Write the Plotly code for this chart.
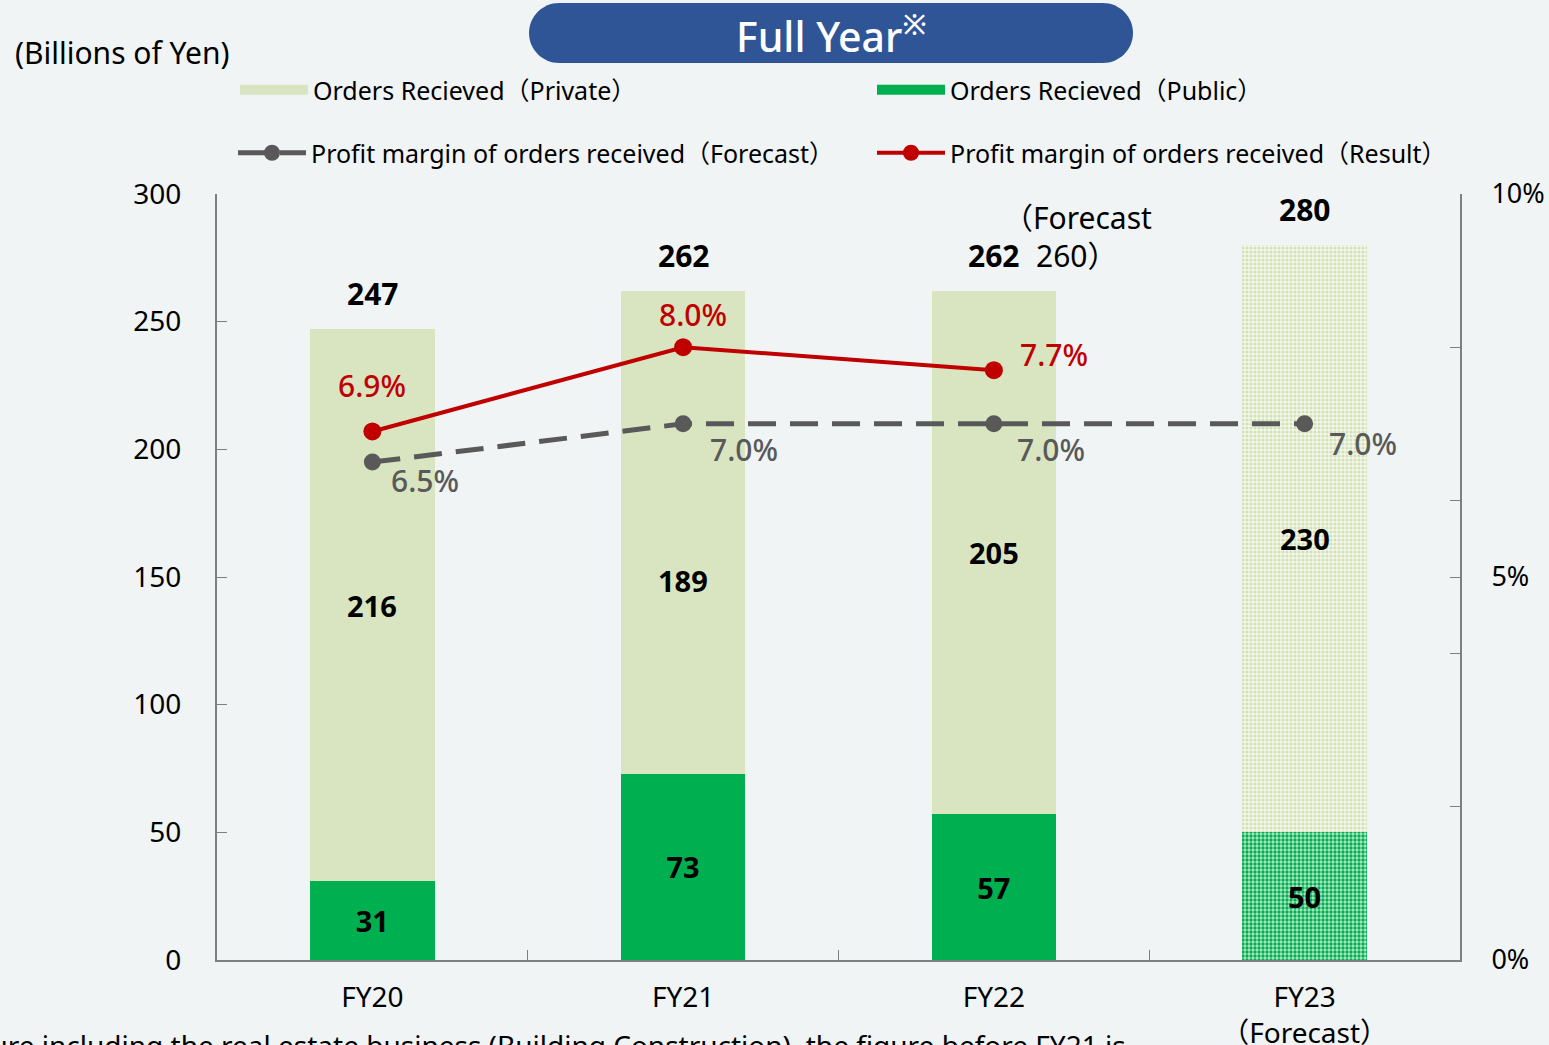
import plotly.graph_objects as go

categories = ["FY20", "FY21", "FY22", "FY23"]
tick_labels = ["FY20", "FY21", "FY22", "FY23<br>（Forecast）"]
private_vals = [216, 189, 205, 230]
public_vals = [31, 73, 57, 50]
totals = [247, 262, 262, 280]
margin_result = [0.069, 0.080, 0.077]
margin_forecast = [0.065, 0.070, 0.070, 0.070]
result_labels = ["6.9%", "8.0%", "7.7%"]
forecast_labels = ["6.5%", "7.0%", "7.0%", "7.0%"]
fy22_forecast_total = 260

FONT = "Noto Sans, Noto Sans CJK JP, sans-serif"
BG = "#F0F4F5"
GREEN = "#00B050"
PALE = "#D9E5C0"
RED = "#C00000"
GRAY = "#595959"
W, H = 1549, 1045
L, R, T, B = 217, 89, 194, 85
PW, PH = W - L - R, H - T - B


def px(x):
    return (x - L) / PW


def py(y):
    return (H - B - y) / PH


fig = go.Figure()

fig.add_trace(go.Bar(
    x=categories, y=public_vals, name="Orders Recieved（Public）",
    marker=dict(color=GREEN, line=dict(width=0),
                pattern=dict(shape=["", "", "", "."],
                             fgcolor=[GREEN] * 4,
                             bgcolor=[GREEN] * 3 + ["#B5E6C8"],
                             size=4, solidity=0.55, fillmode="replace")),
    text=[str(v) for v in public_vals], textposition="inside",
    insidetextanchor="middle", textangle=0,
    textfont=dict(family=FONT, size=29, color="black", weight="bold"),
    width=0.4, showlegend=False, hoverinfo="skip",
))
fig.add_trace(go.Bar(
    x=categories, y=private_vals, name="Orders Recieved（Private）",
    marker=dict(color=PALE, line=dict(width=0),
                pattern=dict(shape=["", "", "", "."],
                             fgcolor=[PALE] * 3 + ["#D3E2B5"],
                             bgcolor=[PALE] * 3 + ["#F4F7EE"],
                             size=4, solidity=0.5, fillmode="replace")),
    textposition="none",
    width=0.4, showlegend=False, hoverinfo="skip",
))
fig.add_trace(go.Scatter(
    x=categories, y=margin_forecast, yaxis="y2", mode="lines+markers",
    name="Profit margin of orders received（Forecast）",
    line=dict(color=GRAY, width=5, dash="28px,14px"),
    marker=dict(size=17, color=GRAY),
    legend="legend3", hoverinfo="skip",
))
fig.add_trace(go.Scatter(
    x=categories[:3], y=margin_result, yaxis="y2", mode="lines+markers",
    name="Profit margin of orders received（Result）",
    line=dict(color=RED, width=4),
    marker=dict(size=18, color=RED),
    legend="legend4", hoverinfo="skip",
))
# legend keys for the bars (wide rectangles like the reference)
fig.add_trace(go.Scatter(x=[None], y=[None], mode="lines", name="Orders Recieved（Private）",
                         line=dict(color=PALE, width=16), legend="legend", hoverinfo="skip"))
fig.add_trace(go.Scatter(x=[None], y=[None], mode="lines", name="Orders Recieved（Public）",
                         line=dict(color=GREEN, width=16), legend="legend2", hoverinfo="skip"))

annotations = []
for c, t in zip(categories, totals):
    annotations.append(dict(x=c, y=t, text=str(t), showarrow=False, yanchor="bottom",
                            yshift=13, font=dict(family=FONT, size=30, color="black", weight="bold")))
priv_shift = [0, -48, 0, 0]
for c, pu, pr, dy in zip(categories, public_vals, private_vals, priv_shift):
    annotations.append(dict(x=c, y=pu + pr / 2, text=str(pr), showarrow=False, yshift=dy,
                            font=dict(family=FONT, size=29, color="black", weight="bold")))
res_shift = [(0, 46), (10, 33), (60, 16)]
for c, v, lab, (dx, dy) in zip(categories, margin_result, result_labels, res_shift):
    annotations.append(dict(x=c, y=v, yref="y2", text=lab, showarrow=False,
                            xshift=dx, yshift=dy,
                            font=dict(family=FONT, size=30, color=RED, weight=500)))
fc_shift = [(53, -18), (61, -26), (57, -26), (58, -20)]
for c, v, lab, (dx, dy) in zip(categories, margin_forecast, forecast_labels, fc_shift):
    annotations.append(dict(x=c, y=v, yref="y2", text=lab, showarrow=False,
                            xshift=dx, yshift=dy,
                            font=dict(family=FONT, size=30, color=GRAY, weight=500)))

annotations += [
    dict(xref="paper", yref="paper", x=px(1001), y=py(217), xanchor="left", yanchor="middle",
         text="（Forecast", showarrow=False,
         font=dict(family=FONT, size=30, color="black")),
    dict(xref="paper", yref="paper", x=px(1034), y=py(256), xanchor="left", yanchor="middle",
         text=f"{fy22_forecast_total}）", showarrow=False,
         font=dict(family=FONT, size=30, color="black")),
    dict(xref="paper", yref="paper", x=px(13), y=py(52), xanchor="left", yanchor="middle",
         text="(Billions of Yen)", showarrow=False,
         font=dict(family=FONT, size=30, color="black")),
    dict(xref="paper", yref="paper", x=px(831), y=py(34), xanchor="center", yanchor="middle",
         text="Full Year<sup>※</sup>", showarrow=False,
         font=dict(family=FONT, size=41, color="white", weight=500)),
    dict(xref="paper", yref="paper", x=px(1128), y=py(1024), xanchor="right", yanchor="top",
         text="※Figure including the real estate business (Building Construction), the figure before FY21 is",
         showarrow=False, font=dict(family=FONT, size=28, color="black")),
]

# rounded pill behind the title
x0, x1, y0, y1, r = 529, 1133, 3, 63, 30
k = 0.45
path = (f"M {px(x0 + r)} {py(y0)} L {px(x1 - r)} {py(y0)} "
        f"C {px(x1 - r * k)} {py(y0)} {px(x1)} {py(y0 + r * k)} {px(x1)} {py(y0 + r)} "
        f"C {px(x1)} {py(y1 - r * k)} {px(x1 - r * k)} {py(y1)} {px(x1 - r)} {py(y1)} "
        f"L {px(x0 + r)} {py(y1)} "
        f"C {px(x0 + r * k)} {py(y1)} {px(x0)} {py(y1 - r * k)} {px(x0)} {py(y1 - r)} "
        f"C {px(x0)} {py(y0 + r * k)} {px(x0 + r * k)} {py(y0)} {px(x0 + r)} {py(y0)} Z")


def leg(xp, yp):
    return dict(x=px(xp), y=py(yp), xanchor="left", yanchor="middle", bgcolor="rgba(0,0,0,0)",
                itemwidth=68, font=dict(family=FONT, size=25, color="black"),
                itemclick=False, itemdoubleclick=False)


fig.update_layout(
    width=W, height=H, barmode="stack",
    margin=dict(l=L, r=R, t=T, b=B, autoexpand=False),
    paper_bgcolor=BG, plot_bgcolor=BG,
    font=dict(family=FONT, size=28, color="black"),
    shapes=[dict(type="path", path=path, xref="paper", yref="paper",
                 fillcolor="#2F5597", line=dict(width=0), layer="below")],
    annotations=annotations,
    xaxis=dict(type="category", range=[-0.5, 3.5], tickmode="array",
               tickvals=categories, ticktext=tick_labels, tickson="boundaries",
               ticks="inside", ticklen=10, tickcolor="#7F7F7F",
               showline=True, linecolor="#7F7F7F", linewidth=2, showgrid=False,
               tickfont=dict(family=FONT, size=28, color="black"), ticklabelstandoff=11),
    yaxis=dict(range=[0, 300], tickvals=[0, 50, 100, 150, 200, 250, 300],
               ticks="inside", ticklen=10, tickcolor="#7F7F7F",
               showline=True, linecolor="#7F7F7F", linewidth=2, showgrid=False, zeroline=False,
               tickfont=dict(family=FONT, size=28, color="black"), ticklabelstandoff=28),
    yaxis2=dict(overlaying="y", side="right", range=[0, 0.1],
                tickvals=[0, 0.05, 0.1], ticktext=["0%", "5%", "10%"],
                ticks="inside", ticklen=10, tickcolor="#7F7F7F",
                minor=dict(tickvals=[0.02, 0.04, 0.06, 0.08], ticks="inside", ticklen=10,
                           tickcolor="#7F7F7F"),
                showline=True, linecolor="#7F7F7F", linewidth=2, showgrid=False, zeroline=False,
                tickfont=dict(family=FONT, size=27, color="black"), ticklabelstandoff=24),
    legend=leg(235, 90),
    legend2=leg(872, 90),
    legend3=leg(233, 153),
    legend4=leg(872, 153),
    showlegend=True,
)

fig.write_html("out.html", config={"displayModeBar": False},
               post_script="document.body.style.margin='0';document.body.style.overflow='hidden';")
